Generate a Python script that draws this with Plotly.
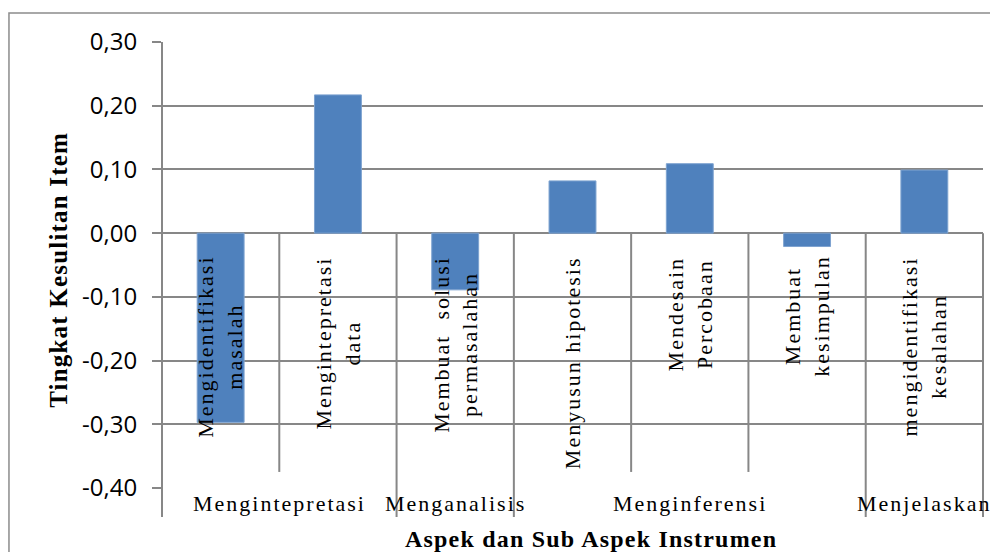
import plotly.graph_objects as go

categories = [
    "Mengidentifikasi<br>masalah",
    "Mengintepretasi<br>data",
    "Membuat  solusi<br>permasalahan",
    "Menyusun hipotesis",
    "Mendesain<br>Percobaan",
    "Membuat<br>kesimpulan",
    "mengidentifikasi<br>kesalahan",
]
values = [-0.297, 0.217, -0.089, 0.082, 0.109, -0.021, 0.099]
groups = ["Mengintepretasi", "Menganalisis", "Menginferensi", "Menjelaskan"]
group_sizes = [2, 1, 3, 1]
y_ticks = [0.30, 0.20, 0.10, 0.00, -0.10, -0.20, -0.30, -0.40]
y_ticktext = ["0,30", "0,20", "0,10", "0,00", "-0,10", "-0,20", "-0,30", "-0,40"]

YMIN, YMAX = -0.40, 0.30
GRID = "#878787"
SERIF = "Liberation Serif, Times New Roman, serif"
n = len(categories)
xs = list(range(n))


def spaced(text, sp):
    return "<br>".join(
        f"<span style='letter-spacing:{sp}px'>{line}</span>" for line in text.split("<br>")
    )


fig = go.Figure()
fig.add_trace(go.Bar(
    x=xs, y=values, width=0.40,
    marker=dict(color="#4F81BD", line=dict(color="#7EA3D0", width=1)),
    hoverinfo="skip",
))

zero_dom = (0 - YMIN) / (YMAX - YMIN)
shapes = []
bounds = [0]
for s in group_sizes:
    bounds.append(bounds[-1] + s)
long_b = set(bounds)
for b in range(n + 1):
    if b == 0:
        y0, y1 = 1.0, -0.065
    elif b in long_b:
        y0, y1 = zero_dom, -0.065
    else:
        y0, y1 = zero_dom, 0.036
    shapes.append(dict(type="line", xref="x domain", yref="y domain",
                       x0=b / n, x1=b / n, y0=y0, y1=y1,
                       line=dict(color=GRID, width=2), layer="above"))
# outer chart frame
shapes.append(dict(type="rect", xref="paper", yref="paper",
                   x0=-0.1864, x1=1.2, y0=1.065, y1=-0.3,
                   line=dict(color="#8C8C8C", width=1.5), fillcolor="rgba(0,0,0,0)",
                   layer="below"))

annotations = []
for i, c in enumerate(categories):
    annotations.append(dict(
        x=xs[i], y=0, xref="x", yref="y", text=spaced(c, 2),
        textangle=-90, showarrow=False, xanchor="center", yanchor="top",
        yshift=-21, align="center",
        font=dict(family=SERIF, size=22, color="#000000"),
    ))
for gi, g in enumerate(groups):
    center = (bounds[gi] + bounds[gi + 1]) / 2 / n
    annotations.append(dict(
        x=center, y=0, xref="x domain", yref="y domain", text=spaced(g, 2),
        showarrow=False, xanchor="center", yanchor="middle", yshift=-15,
        font=dict(family=SERIF, size=22, color="#000000"),
    ))
annotations.append(dict(
    x=0.5225, y=-0.1143, xref="paper", yref="paper",
    text=spaced("<b>Aspek dan Sub Aspek Instrumen</b>", 1.2),
    showarrow=False, xanchor="center", yanchor="middle",
    font=dict(family=SERIF, size=24, color="#000000"),
))
annotations.append(dict(
    x=-0.1255, y=0.489, xref="paper", yref="paper",
    text=spaced("<b>Tingkat Kesulitan Item</b>", 1.2),
    textangle=-90, showarrow=False, xanchor="center", yanchor="middle",
    font=dict(family=SERIF, size=25, color="#000000"),
))

# page has an 8px body margin, so the figure is 8px smaller and margins shifted
fig.update_layout(
    width=990, height=544,
    margin=dict(l=154, r=15, t=34, b=64),
    paper_bgcolor="white", plot_bgcolor="white",
    showlegend=False,
    shapes=shapes, annotations=annotations,
    xaxis=dict(range=[-0.5, n - 0.5], showticklabels=False, showgrid=False,
               zeroline=False, showline=False, ticks=""),
    yaxis=dict(range=[YMIN, YMAX], tickvals=y_ticks, ticktext=y_ticktext,
               showgrid=True, gridcolor=GRID, gridwidth=2, zeroline=False,
               showline=False, ticks="outside", ticklen=9, tickwidth=2,
               tickcolor=GRID, ticklabelstandoff=10,
               tickfont=dict(family="Open Sans, sans-serif", size=24, color="#000000")),
)

fig.write_html("out.html")
